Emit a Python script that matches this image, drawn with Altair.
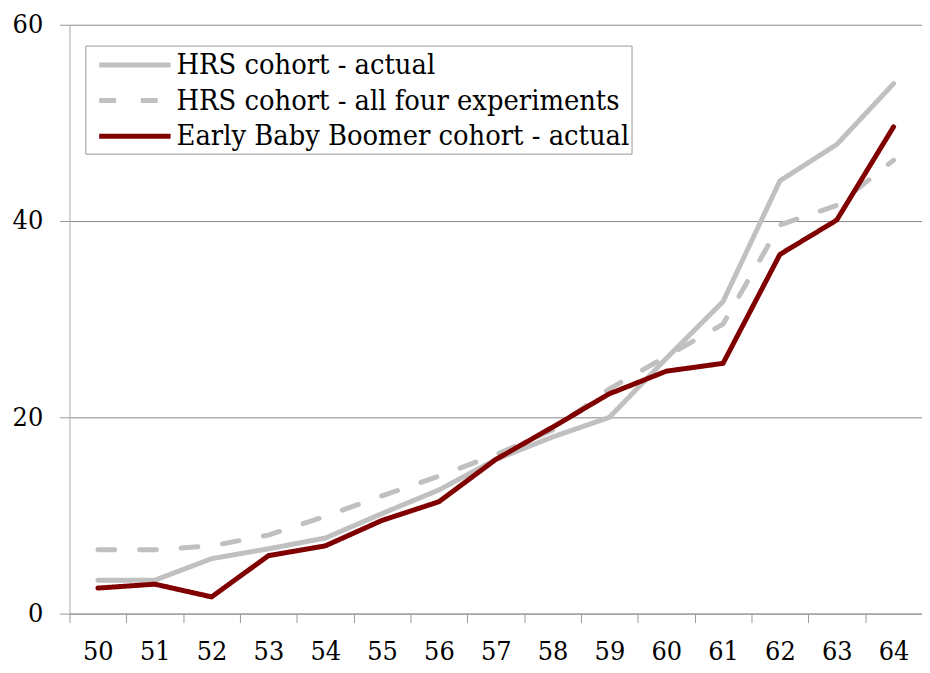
import altair as alt
import pandas as pd

ages = [50, 51, 52, 53, 54, 55, 56, 57, 58, 59, 60, 61, 62, 63, 64]
hrs_actual = [3.4, 3.4, 5.6, 6.6, 7.7, 10.2, 12.6, 15.7, 18.0, 20.0, 26.0, 31.8, 44.1, 47.8, 54.0]
hrs_experiments = [6.5, 6.5, 6.9, 8.0, 9.9, 12.0, 14.0, 16.2, 18.7, 22.9, 26.2, 29.5, 39.6, 41.6, 46.2]
ebb_actual = [2.6, 3.0, 1.7, 5.9, 6.9, 9.5, 11.4, 15.7, 19.0, 22.4, 24.7, 25.5, 36.6, 40.1, 49.6]

series_names = [
    "HRS cohort - actual",
    "HRS cohort - all four experiments",
    "Early Baby Boomer cohort - actual",
]
series_colors = ["#C0C0C0", "#C0C0C0", "#800000"]
series_dashes = [[1, 0], [17, 25], [1, 0]]
y_ticks = [0, 20, 40, 60]

rows = []
for name, vals in zip(series_names, [hrs_actual, hrs_experiments, ebb_actual]):
    for a, v in zip(ages, vals):
        rows.append({"age": a, "value": v, "series": name})
df = pd.DataFrame(rows)

tick_edges = [a - 0.5 for a in ages]

FONT = "DejaVu Serif Condensed"
W, H = 860, 594
step = W / len(ages)

S = 30
legend = alt.Legend(
    title=None, orient="none", legendX=16, legendY=21,
    strokeColor="#999999", padding=2, fillColor="white",
    labelFont=FONT, labelFontSize=29, labelColor="black", labelLimit=1000,
    symbolType="M-2.4,0H2.4", symbolStrokeWidth=5, symbolSize=S * S,
    symbolOffset=30.5, labelOffset=24.5, rowPadding=3,
)

color = alt.Color("series:N", scale=alt.Scale(domain=series_names, range=series_colors), legend=legend)
dash = alt.StrokeDash("series:N", scale=alt.Scale(domain=series_names, range=series_dashes), legend=legend)

x = alt.X(
    "age:Q",
    scale=alt.Scale(domain=[49.5, 64.5], nice=False, zero=False),
    axis=alt.Axis(
        title=None, values=tick_edges, labelExpr="format(datum.value + 0.5, 'd')",
        labelOffset=step / 2, labelFlush=False, labelOverlap=False,
        labelFont=FONT, labelFontSize=27, labelColor="black", labelPadding=16,
        tickSize=9, tickColor="#999999", domainColor="#999999", grid=False,
    ),
)
y = alt.Y(
    "value:Q",
    scale=alt.Scale(domain=[0, 60], nice=False),
    axis=alt.Axis(
        title=None, values=y_ticks, labelFont=FONT, labelFontSize=27, labelColor="black",
        labelPadding=17, tickSize=10, tickColor="#999999", domainColor="#aaaaaa",
        grid=True, gridColor="#888888", gridWidth=1,
    ),
)

base = alt.Chart(df).mark_line(strokeWidth=5, strokeCap="round", strokeJoin="round").encode(
    x=x, y=y, color=color, strokeDash=dash
)
layers = [base.transform_filter(alt.datum.series == n) for n in series_names]

chart = alt.layer(*layers).properties(
    width=W, height=H,
    autosize=alt.AutoSizeParams(type="none"),
    padding={"left": 62, "top": 14, "right": 0, "bottom": 57},
).configure_view(strokeWidth=0)

chart.save("out.html", embed_options={"renderer": "svg", "actions": False})
